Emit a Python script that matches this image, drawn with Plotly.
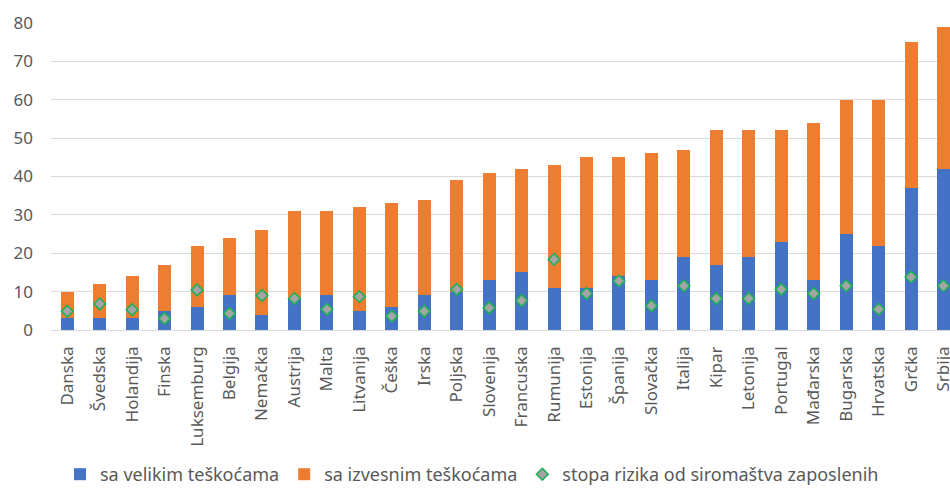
import plotly.graph_objects as go

countries = ["Danska", "Švedska", "Holandija", "Finska", "Luksemburg", "Belgija", "Nemačka",
             "Austrija", "Malta", "Litvanija", "Češka", "Irska", "Poljska", "Slovenija",
             "Francuska", "Rumunija", "Estonija", "Španija", "Slovačka", "Italija", "Kipar",
             "Letonija", "Portugal", "Mađarska", "Bugarska", "Hrvatska", "Grčka", "Srbija"]
veliki = [3, 3, 3, 5, 6, 9, 4, 8, 9, 5, 6, 9, 10, 13, 15, 11, 11, 14, 13, 19, 17, 19, 23, 13, 25, 22, 37, 42]
ukupno = [10, 12, 14, 17, 22, 24, 26, 31, 31, 32, 33, 34, 39, 41, 42, 43, 45, 45, 46, 47, 52, 52, 52, 54, 60, 60, 75, 79]
izvesni = [t - v for t, v in zip(ukupno, veliki)]
stopa = [4.9, 6.8, 5.3, 3.0, 10.4, 4.3, 9.0, 8.2, 5.4, 8.7, 3.6, 4.9, 10.6, 5.8, 7.7, 18.4, 9.5, 12.8,
         6.3, 11.5, 8.2, 8.2, 10.6, 9.5, 11.5, 5.4, 13.8, 11.5]

font_family = "Noto Sans"
gray = "#595959"

fig = go.Figure()
fig.add_trace(go.Bar(x=countries, y=veliki, name="sa velikim teškoćama",
                     marker=dict(color="#4472c4", line=dict(width=0)), width=0.4))
fig.add_trace(go.Bar(x=countries, y=izvesni, name="sa izvesnim teškoćama",
                     marker=dict(color="#ed7d31", line=dict(width=0)), width=0.4))
fig.add_trace(go.Scatter(x=countries, y=stopa, name="stopa rizika od siromaštva zaposlenih",
                         mode="markers",
                         marker=dict(symbol="diamond", size=9, color="#a5a5a5",
                                     line=dict(color="#1fb05a", width=1.6))))

fig.update_layout(
    width=950, height=493,
    barmode="stack",
    plot_bgcolor="white", paper_bgcolor="white",
    margin=dict(l=51, r=0, t=23, b=163, autoexpand=False),
    font=dict(family=font_family, color=gray, size=17),
    showlegend=True,
    legend=dict(orientation="h", x=0.01, y=0.0, yref="container", xanchor="left", yanchor="bottom",
                font=dict(size=18, color=gray), itemwidth=30, traceorder="normal",
                bgcolor="rgba(0,0,0,0)"),
    xaxis=dict(range=[-0.5, 27.2], tickangle=-90, showgrid=False, showline=False,
               ticks="", tickfont=dict(size=17, color=gray), automargin=False,
               ticklabelstandoff=12),
    yaxis=dict(range=[0, 80], dtick=10, showgrid=True, gridcolor="#d9d9d9", gridwidth=1,
               zeroline=True, zerolinecolor="#d9d9d9", zerolinewidth=1, showline=False,
               ticks="", tickfont=dict(size=17, color=gray), ticklabelstandoff=17,
               automargin=False),
)

fig.write_html("out.html")
